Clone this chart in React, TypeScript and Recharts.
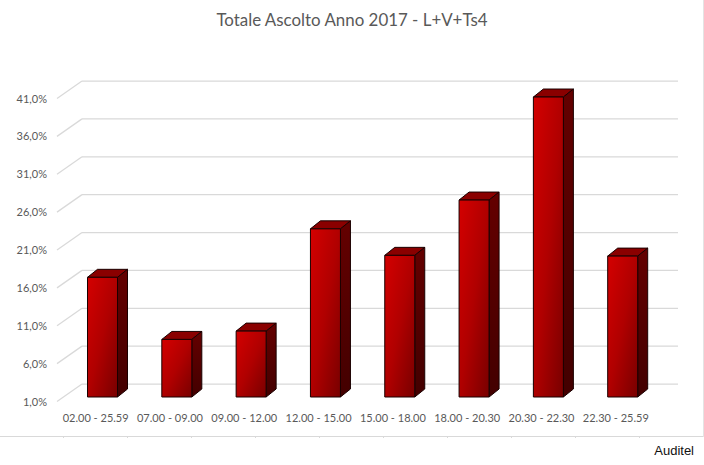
import React from "react";
import { BarChart, Bar, XAxis, YAxis, CartesianGrid } from "recharts";

const W = 704;
const H = 465;

const categories = [
  "02.00 - 25.59",
  "07.00 - 09.00",
  "09.00 - 12.00",
  "12.00 - 15.00",
  "15.00 - 18.00",
  "18.00 - 20.30",
  "20.30 - 22.30",
  "22.30 - 25.59",
];
const values = [16.8, 8.6, 9.7, 23.2, 19.7, 27.0, 40.6, 19.6];
const yTicks = [1, 6, 11, 16, 21, 26, 31, 36, 41];
const sheetTicks = [63, 127, 191, 255, 319, 383, 447, 511, 575, 639];

const data = categories.map((name, i) => ({ name, value: values[i] }));

const DEPTH_X = 10;
const DEPTH_Y = 8;
const FONT = "Lato, 'Open Sans', sans-serif";

function Box3D(props: any) {
  const { x, y, width, height } = props;
  const r = x + width;
  const b = y + height;
  return (
    <g stroke="#1a0000" strokeWidth={1} strokeLinejoin="round">
      <path
        d={`M${x},${y} L${x + DEPTH_X},${y - DEPTH_Y} L${r + DEPTH_X},${y - DEPTH_Y} L${r},${y} Z`}
        fill="#8a0000"
      />
      <path
        d={`M${r},${y} L${r + DEPTH_X},${y - DEPTH_Y} L${r + DEPTH_X},${b - DEPTH_Y} L${r},${b} Z`}
        fill="url(#sideFill)"
      />
      <rect x={x} y={y} width={width} height={height} fill="url(#frontFill)" />
    </g>
  );
}

function YTick(props: any) {
  const { y, payload } = props;
  const label = payload.value.toFixed(1).replace(".", ",") + "%";
  return (
    <g>
      <line x1={57} y1={y + 4.5} x2={82} y2={y - 13} stroke="#d9d9d9" strokeWidth={1.25} />
      <text x={47} y={y + 8.5} textAnchor="end" fontFamily={FONT} fontSize={11} fill="#595959">
        {label}
      </text>
    </g>
  );
}

function XTick(props: any) {
  const { x, y, payload } = props;
  return (
    <text x={x - 7} y={y + 16.5} textAnchor="middle" fontFamily={FONT} fontSize={11} fill="#595959">
      {payload.value}
    </text>
  );
}

function backGridLine(props: any) {
  const { y1 } = props;
  return <line x1={82} x2={678} y1={y1 - 13} y2={y1 - 13} stroke="#d9d9d9" strokeWidth={1.25} />;
}

export default function App() {
  return (
    <div
      style={{
        position: "absolute",
        left: 0,
        top: 0,
        width: W,
        height: H,
        background: "#fff",
        overflow: "hidden",
      }}
    >
      <div
        style={{
          position: "absolute",
          left: 0,
          top: 0,
          width: W,
          textAlign: "center",
          fontFamily: FONT,
          fontSize: 16.9,
          color: "#595959",
          lineHeight: "40px",
        }}
      >
        Totale Ascolto Anno 2017 - L+V+Ts4
      </div>
      <BarChart
        width={W}
        height={H}
        data={data}
        margin={{ top: 94, right: 44, bottom: 0, left: 0 }}
        barSize={30}
      >
        <defs>
          <linearGradient id="frontFill" x1="0" y1="0" x2="1" y2="1">
            <stop offset="0" stopColor="#d40000" />
            <stop offset="0.5" stopColor="#b00000" />
            <stop offset="1" stopColor="#780000" />
          </linearGradient>
          <linearGradient id="sideFill" x1="0" y1="0" x2="0" y2="1">
            <stop offset="0" stopColor="#640000" />
            <stop offset="1" stopColor="#430000" />
          </linearGradient>
        </defs>
        <CartesianGrid vertical={false} horizontal={backGridLine} />
        <YAxis
          type="number"
          domain={[1, 41]}
          ticks={yTicks}
          width={65.5}
          axisLine={false}
          tickLine={false}
          interval={0}
          tick={YTick}
        />
        <XAxis
          dataKey="name"
          axisLine={false}
          tickLine={false}
          interval={0}
          tick={XTick}
          height={68}
        />
        <Bar dataKey="value" shape={Box3D} isAnimationActive={false} />
      </BarChart>
      <div
        style={{
          position: "absolute",
          left: 0,
          top: 436,
          width: W - 1,
          height: 1,
          background: "#d9d9d9",
        }}
      />
      <div
        style={{
          position: "absolute",
          left: W - 1,
          top: 0,
          width: 1,
          height: 437,
          background: "#e4e4e4",
        }}
      />
      {sheetTicks.map((x) => (
        <div
          key={x}
          style={{
            position: "absolute",
            left: x,
            top: 437,
            width: 1,
            height: 1,
            background: "#d9d9d9",
          }}
        />
      ))}
      <div
        style={{
          position: "absolute",
          right: 10,
          top: 444,
          fontFamily: "'Liberation Sans', Arial, sans-serif",
          fontSize: 13,
          color: "#111",
          lineHeight: "14px",
        }}
      >
        Auditel
      </div>
    </div>
  );
}
